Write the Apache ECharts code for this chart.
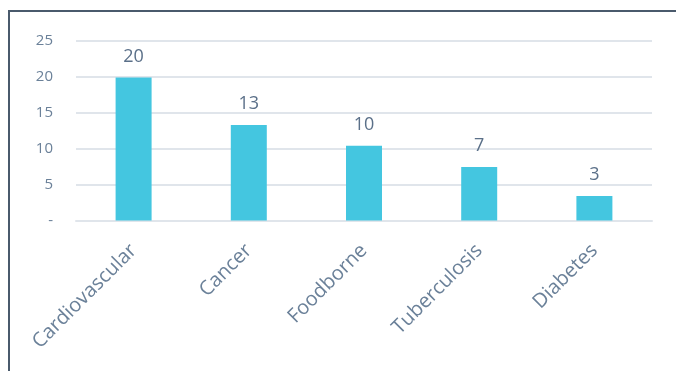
<!DOCTYPE html>
<html>
<head>
<meta charset="utf-8">
<script src="https://cdn.jsdelivr.net/npm/echarts@6/dist/echarts.min.js"></script>
<style>
  html, body { margin: 0; padding: 0; background: #fff; }
  #chart { width: 676px; height: 371px; }
</style>
</head>
<body>
<div id="chart"></div>
<script>
const categories = ['Cardiovascular', 'Cancer', 'Foodborne', 'Tuberculosis', 'Diabetes']
const values = [19.9, 13.3, 10.4, 7.45, 3.4]
const yTicks = [0, 5, 10, 15, 20, 25]

const chart = echarts.init(document.getElementById('chart'))
const labelColor = '#6b8199'
const font = '"Open Sans", "Noto Sans", sans-serif'

const option = {
	animation: false,
	graphic: [
		{
			type: 'rect',
			shape: { x: 9, y: 11, width: 720, height: 420 },
			style: { fill: 'none', stroke: '#4a5a6c', lineWidth: 2 },
			silent: true
		}
	],
	grid: { left: 76, right: 24, top: 41, bottom: 150.5 },
	xAxis: {
		type: 'category',
		data: categories,
		axisLine: { show: true, lineStyle: { color: '#e0e5eb', width: 2 } },
		axisTick: { show: false },
		axisLabel: {
			rotate: 45,
			margin: 27,
			color: labelColor,
			fontSize: 20,
			fontFamily: font,
			interval: 0
		}
	},
	yAxis: {
		type: 'value',
		min: 0,
		max: 25,
		interval: 5,
		axisLine: { show: false },
		axisTick: { show: false },
		splitLine: { lineStyle: { color: '#e0e5eb', width: 2 } },
		axisLabel: {
			margin: 23,
			color: labelColor,
			fontSize: 15,
			fontFamily: font,
			formatter: v => (yTicks.includes(v) ? (v === 0 ? '-' : String(v)) : '')
		}
	},
	series: [
		{
			type: 'bar',
			data: values,
			barWidth: 36,
			itemStyle: { color: '#44c6e0' },
			label: {
				show: true,
				position: 'top',
				distance: 12,
				color: '#5b7089',
				fontSize: 18,
				fontFamily: font,
				formatter: p => Math.round(p.value)
			}
		}
	]
}
chart.setOption(option)
</script>
</body>
</html>
